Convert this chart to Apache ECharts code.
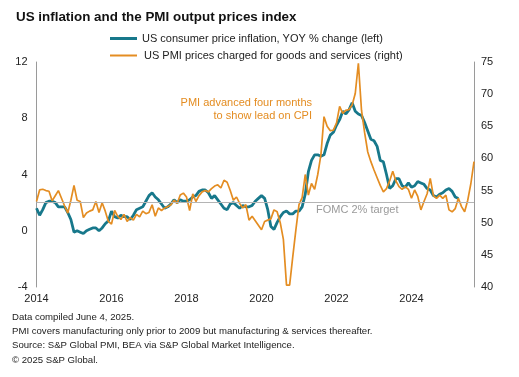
<!DOCTYPE html>
<html>
<head>
<meta charset="utf-8">
<script src="https://cdn.jsdelivr.net/npm/echarts@6/dist/echarts.min.js"></script>
<style>
  html, body { margin: 0; padding: 0; background: #fff; }
  #chart { width: 519px; height: 377px; }
</style>
</head>
<body>
<div id="chart"></div>
<script>
// monthly, Jan 2014 onwards
const startYear = 2014;
const yearLabels = [2014, 2016, 2018, 2020, 2022, 2024];

// US CPI, YoY % (Jan 2014 - Apr 2025)
const cpiValues = [
  1.6, 1.1, 1.5, 2.0, 2.1, 2.1, 2.0, 1.7, 1.7, 1.7, 1.3, 0.8,
  -0.1, 0.0, -0.1, -0.2, 0.0, 0.1, 0.2, 0.2, 0.0, 0.2, 0.5, 0.7,
  1.4, 1.0, 0.9, 1.1, 1.0, 1.0, 0.8, 1.1, 1.5, 1.6, 1.7, 2.1,
  2.5, 2.7, 2.4, 2.2, 1.9, 1.6, 1.7, 1.9, 2.2, 2.0, 2.2, 2.1,
  2.1, 2.2, 2.4, 2.5, 2.8, 2.9, 2.9, 2.7, 2.3, 2.5, 2.2, 1.9,
  1.6, 1.5, 1.9, 2.0, 1.8, 1.6, 1.8, 1.7, 1.7, 1.8, 2.1, 2.3,
  2.5, 2.3, 1.5, 0.3, 0.1, 0.6, 1.0, 1.3, 1.4, 1.2, 1.2, 1.4,
  1.4, 1.7, 2.6, 4.2, 5.0, 5.4, 5.4, 5.3, 5.4, 6.2, 6.8, 7.0,
  7.5, 7.9, 8.5, 8.3, 8.6, 9.1, 8.5, 8.3, 8.2, 7.7, 7.1, 6.5,
  6.4, 6.0, 5.0, 4.9, 4.0, 3.0, 3.2, 3.7, 3.7, 3.2, 3.1, 3.4,
  3.1, 3.2, 3.5, 3.4, 3.3, 3.0, 2.9, 2.5, 2.4, 2.6, 2.7, 2.9,
  3.0, 2.8, 2.4, 2.3
];

// PMI prices charged index, plotted 4 months ahead (Jan 2014 - Sep 2025 on axis)
const pmiValues = [
  53.3, 55.1, 55.2, 55.0, 54.9, 53.4, 54.2, 55.0, 53.8, 52.6, 51.5, 53.5,
  55.8, 53.5, 53.3, 50.8, 51.5, 51.8, 52.0, 53.3, 51.6, 53.1, 51.8, 50.2,
  49.8, 51.9, 51.0, 50.5, 51.3, 50.2, 50.8, 50.4, 51.3, 50.9, 51.8, 51.4,
  51.6, 52.8, 51.0, 52.3, 51.9, 52.3, 52.5, 52.8, 53.5, 53.0, 54.3, 54.6,
  54.0, 51.9, 54.5, 53.3, 54.2, 54.8, 55.0, 54.8, 55.3, 55.7, 55.9, 55.4,
  56.6, 56.3, 55.0, 53.5, 54.0, 53.0, 52.3, 52.8, 50.4, 51.0, 50.3, 49.6,
  48.9, 50.2, 50.4, 50.6, 52.0, 51.7, 50.0, 47.4, 40.3, 40.3, 44.7, 48.9,
  52.8, 53.9, 57.5, 54.3, 56.1, 55.2, 57.5, 60.5, 66.5, 65.0, 64.3, 64.4,
  65.5, 68.1, 67.0, 67.5, 67.6, 68.3, 70.1, 74.8, 67.5, 64.0, 61.0, 59.5,
  58.2, 57.0, 55.8, 54.8, 55.3, 56.5, 58.0, 56.5, 55.6, 55.2, 55.6, 55.2,
  53.8, 55.1, 54.1, 52.0, 53.3, 54.5, 56.9, 54.2, 53.8, 54.3, 53.8, 54.3,
  52.0, 51.7, 52.2, 53.8, 52.5, 51.7, 53.5, 56.1, 59.5
];

const footnotes = [
  "Data compiled June 4, 2025.",
  "PMI covers manufacturing only prior to 2009 but manufacturing & services thereafter.",
  "Source: S&P Global PMI, BEA via S&P Global Market Intelligence.",
  "\u00a9 2025 S&P Global."
];

const BLUE = "#17788b";
const ORANGE = "#e48d22";
const FONT = "Liberation Sans, Arial, sans-serif";

const chart = echarts.init(document.getElementById("chart"));

const cpiData = cpiValues.map((v, i) => [i, v]);
const pmiData = pmiValues.map((v, i) => [i, v]);

chart.setOption({
  animation: false,
  backgroundColor: "#fff",
  textStyle: { fontFamily: FONT },
  title: {
    text: "US inflation and the PMI output prices index",
    left: 11,
    top: 6,
    textStyle: { fontSize: 13.4, fontWeight: "bold", color: "#111", fontFamily: FONT }
  },
  legend: [
    {
      data: ["US consumer price inflation, YOY % change (left)"],
      left: 105, top: 28,
      itemWidth: 27, itemHeight: 3, itemGap: 4,
      icon: "rect",
      textStyle: { fontSize: 11, color: "#222", fontFamily: FONT }
    },
    {
      data: ["US PMI prices charged for goods and services (right)"],
      left: 105, top: 45,
      itemWidth: 27, itemHeight: 2, itemGap: 4,
      icon: "rect",
      textStyle: { fontSize: 11, color: "#222", fontFamily: FONT, padding: [0, 0, 0, 2] }
    }
  ],
  grid: { left: 36.5, right: 45, top: 62, bottom: 90 },
  xAxis: {
    type: "value",
    min: 0,
    max: 140,
    interval: 24,
    axisLine: { show: false },
    axisTick: { show: false },
    splitLine: { show: false },
    axisLabel: {
      margin: 6,
      fontSize: 11,
      color: "#222",
      formatter: (v) => {
        const y = startYear + v / 12;
        return yearLabels.includes(y) ? String(y) : "";
      }
    }
  },
  yAxis: [
    {
      type: "value",
      min: -4, max: 12, interval: 4,
      axisLine: { show: true, lineStyle: { color: "#9a9a9a", width: 1 } },
      axisTick: { show: false },
      splitLine: { show: false },
      axisLabel: { margin: 9, fontSize: 11, color: "#222" }
    },
    {
      type: "value",
      min: 40, max: 75, interval: 5,
      position: "right",
      axisLine: { show: true, lineStyle: { color: "#9a9a9a", width: 1 } },
      axisTick: { show: false },
      splitLine: { show: false },
      axisLabel: { margin: 7, fontSize: 11, color: "#222" }
    }
  ],
  series: [
    {
      name: "US consumer price inflation, YOY % change (left)",
      type: "line",
      yAxisIndex: 0,
      data: cpiData,
      symbol: "none",
      color: BLUE,
      lineStyle: { color: BLUE, width: 2.8 },
      markLine: {
        silent: true,
        symbol: "none",
        label: { show: false },
        lineStyle: { color: "#b4b4b4", width: 1, type: "solid" },
        data: [{ yAxis: 2 }]
      },
      z: 2
    },
    {
      name: "US PMI prices charged for goods and services (right)",
      type: "line",
      yAxisIndex: 1,
      data: pmiData,
      symbol: "none",
      color: ORANGE,
      lineStyle: { color: ORANGE, width: 1.7 },
      z: 3
    }
  ],
  graphic: [
    {
      type: "text", x: 312, y: 96,
      style: {
        text: "PMI advanced four months\nto show lead on CPI",
        fill: ORANGE, font: "11px " + FONT, align: "right", lineHeight: 13
      }
    },
    {
      type: "text", left: 316, top: 204,
      style: { text: "FOMC 2% target", fill: "#9a9a9a", font: "11px " + FONT }
    },
    {
      type: "group", left: 12, top: 312,
      children: footnotes.map((t, i) => ({
        type: "text", x: 0, y: i * 14.3,
        style: { text: t, fill: "#222", font: "9.6px " + FONT }
      }))
    }
  ]
});
</script>
</body>
</html>
